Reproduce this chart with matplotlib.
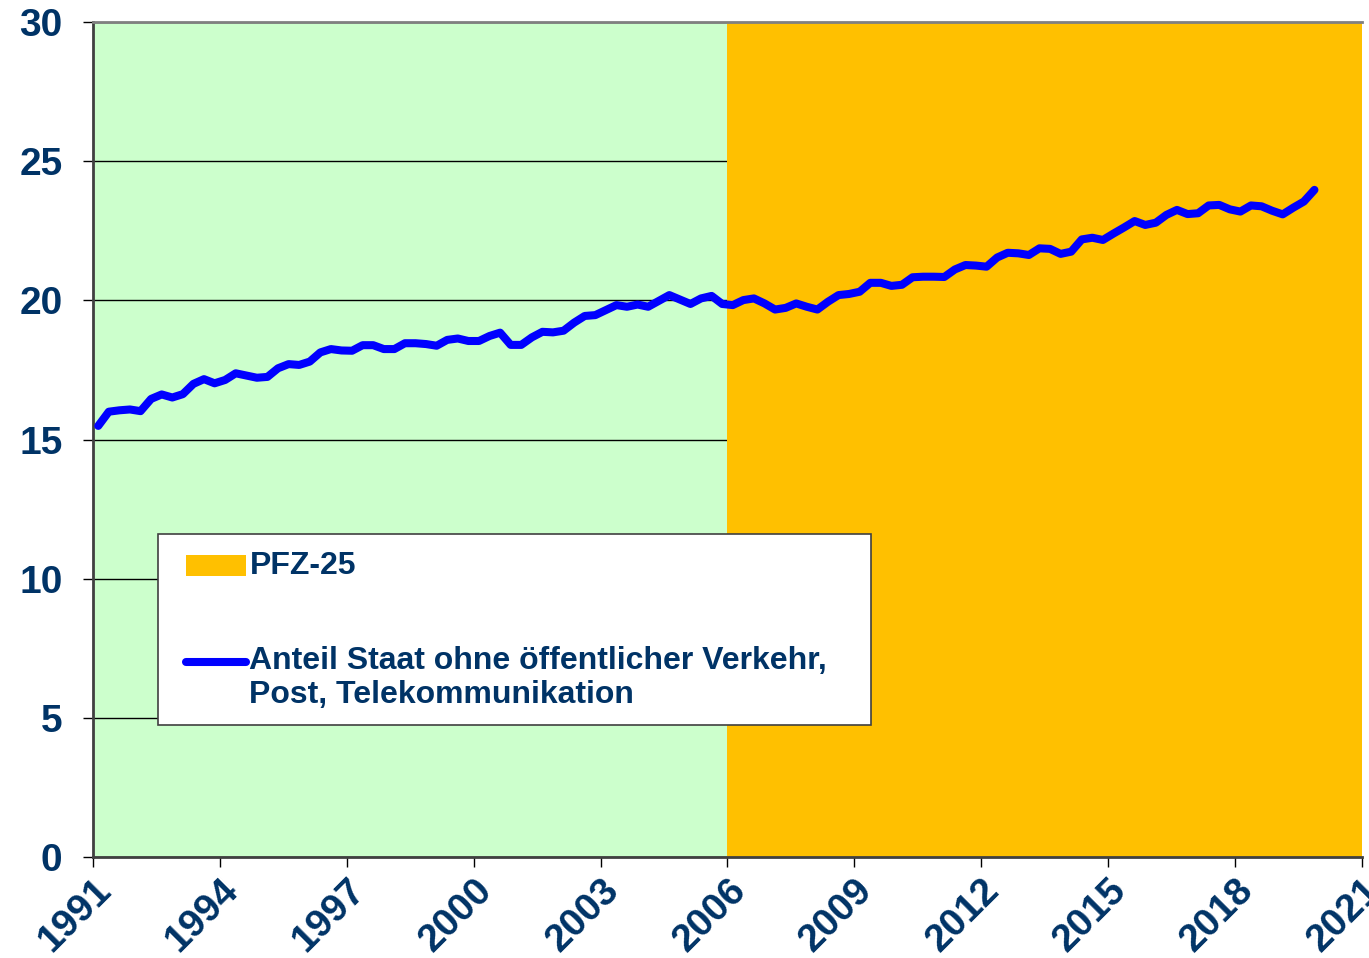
import matplotlib.pyplot as plt
from matplotlib.patches import Rectangle
from matplotlib.lines import Line2D
import numpy as np

plt.rcParams['font.family'] = ['Liberation Sans', 'DejaVu Sans']

# quarterly values 1991Q1 - 2019Q4
anteil = [
    15.49, 16.00, 16.05, 16.08, 16.02, 16.46, 16.62, 16.51, 16.63, 17.00,
    17.17, 17.02, 17.14, 17.38, 17.30, 17.22, 17.25, 17.56, 17.71, 17.68,
    17.80, 18.13, 18.25, 18.20, 18.19, 18.39, 18.39, 18.25, 18.25, 18.46,
    18.46, 18.43, 18.37, 18.58, 18.63, 18.54, 18.54, 18.72, 18.84, 18.40,
    18.40, 18.67, 18.87, 18.85, 18.91, 19.20, 19.44, 19.47, 19.65, 19.83,
    19.77, 19.85, 19.77, 19.98, 20.19, 20.03, 19.87, 20.07, 20.16, 19.87,
    19.83, 20.01, 20.07, 19.89, 19.67, 19.73, 19.89, 19.77, 19.67, 19.95,
    20.19, 20.23, 20.31, 20.63, 20.63, 20.52, 20.56, 20.83, 20.85, 20.85,
    20.84, 21.11, 21.27, 21.25, 21.21, 21.54, 21.71, 21.69, 21.63, 21.87,
    21.85, 21.67, 21.75, 22.19, 22.25, 22.17, 22.40, 22.62, 22.85, 22.71,
    22.79, 23.07, 23.25, 23.10, 23.13, 23.41, 23.43, 23.27, 23.19, 23.41,
    23.38, 23.22, 23.09, 23.33, 23.55, 23.97,
]
quarters = 1991 + (np.arange(len(anteil)) + 0.5) / 4

# PFZ-25 period
pfz_start = 2006
pfz_end = 2021
pfz_height = 30

year_ticks = list(range(1991, 2022, 3))
y_ticks = [0, 5, 10, 15, 20, 25, 30]

navy = '#003366'
orange = '#FFC000'
blue = '#0000FF'

fig = plt.figure(figsize=(13.69, 9.58), dpi=100)
ax = fig.add_axes([0.0679, 0.1054, 0.927, 0.8716])
ax.set_facecolor('#CCFFCC')

ax.bar(pfz_start, pfz_height, width=pfz_end - pfz_start, align='edge',
       color=orange, zorder=1)
ax.plot(quarters, anteil, color=blue, linewidth=5.8, solid_capstyle='round',
        solid_joinstyle='round', zorder=3)

ax.set_xlim(1991, 2021)
ax.set_ylim(0, 30)
ax.set_xticks(year_ticks)
ax.set_yticks(y_ticks)
ax.set_axisbelow(True)
ax.yaxis.grid(True, color='black', linewidth=1)

ax.tick_params(axis='both', direction='out', length=7, width=1, color='black',
               labelsize=28, labelcolor=navy)
ax.tick_params(axis='y', pad=15)
ax.tick_params(axis='x', pad=4)
for lab in ax.get_xticklabels():
    lab.set_rotation(45)
    lab.set_ha('right')
    lab.set_va('top')
    lab.set_rotation_mode('anchor')
    lab.set_fontweight('bold')
for lab in ax.get_yticklabels():
    lab.set_fontweight('bold')

ax.spines['right'].set_visible(False)
ax.spines['top'].set_color('#808080')
ax.spines['top'].set_linewidth(2)
ax.spines['left'].set_color('#404040')
ax.spines['left'].set_linewidth(2)
ax.spines['bottom'].set_color('#404040')
ax.spines['bottom'].set_linewidth(2)

# legend box
tr = ax.transAxes
ax.add_patch(Rectangle((0.0512, 0.158), 0.562, 0.2288, transform=tr,
                       facecolor='white', edgecolor='#404040', linewidth=1.2,
                       zorder=5))
ax.add_patch(Rectangle((0.0733, 0.336), 0.047, 0.026, transform=tr,
                       facecolor=orange, edgecolor='none', zorder=6))
ax.add_line(Line2D([0.0733, 0.1203], [0.234, 0.234], transform=tr,
                   color=blue, linewidth=5.8, solid_capstyle='round', zorder=6))
ax.text(0.1233, 0.349, 'PFZ-25', transform=tr, fontsize=23,
        fontweight='bold', color=navy, va='center', ha='left', zorder=7)
ax.text(0.1233, 0.235, 'Anteil Staat ohne öffentlicher Verkehr,', transform=tr,
        fontsize=23, fontweight='bold', color=navy, va='center', ha='left',
        zorder=7)
ax.text(0.1233, 0.194, 'Post, Telekommunikation', transform=tr,
        fontsize=23, fontweight='bold', color=navy, va='center', ha='left',
        zorder=7)

plt.savefig('out.png', dpi=100)
